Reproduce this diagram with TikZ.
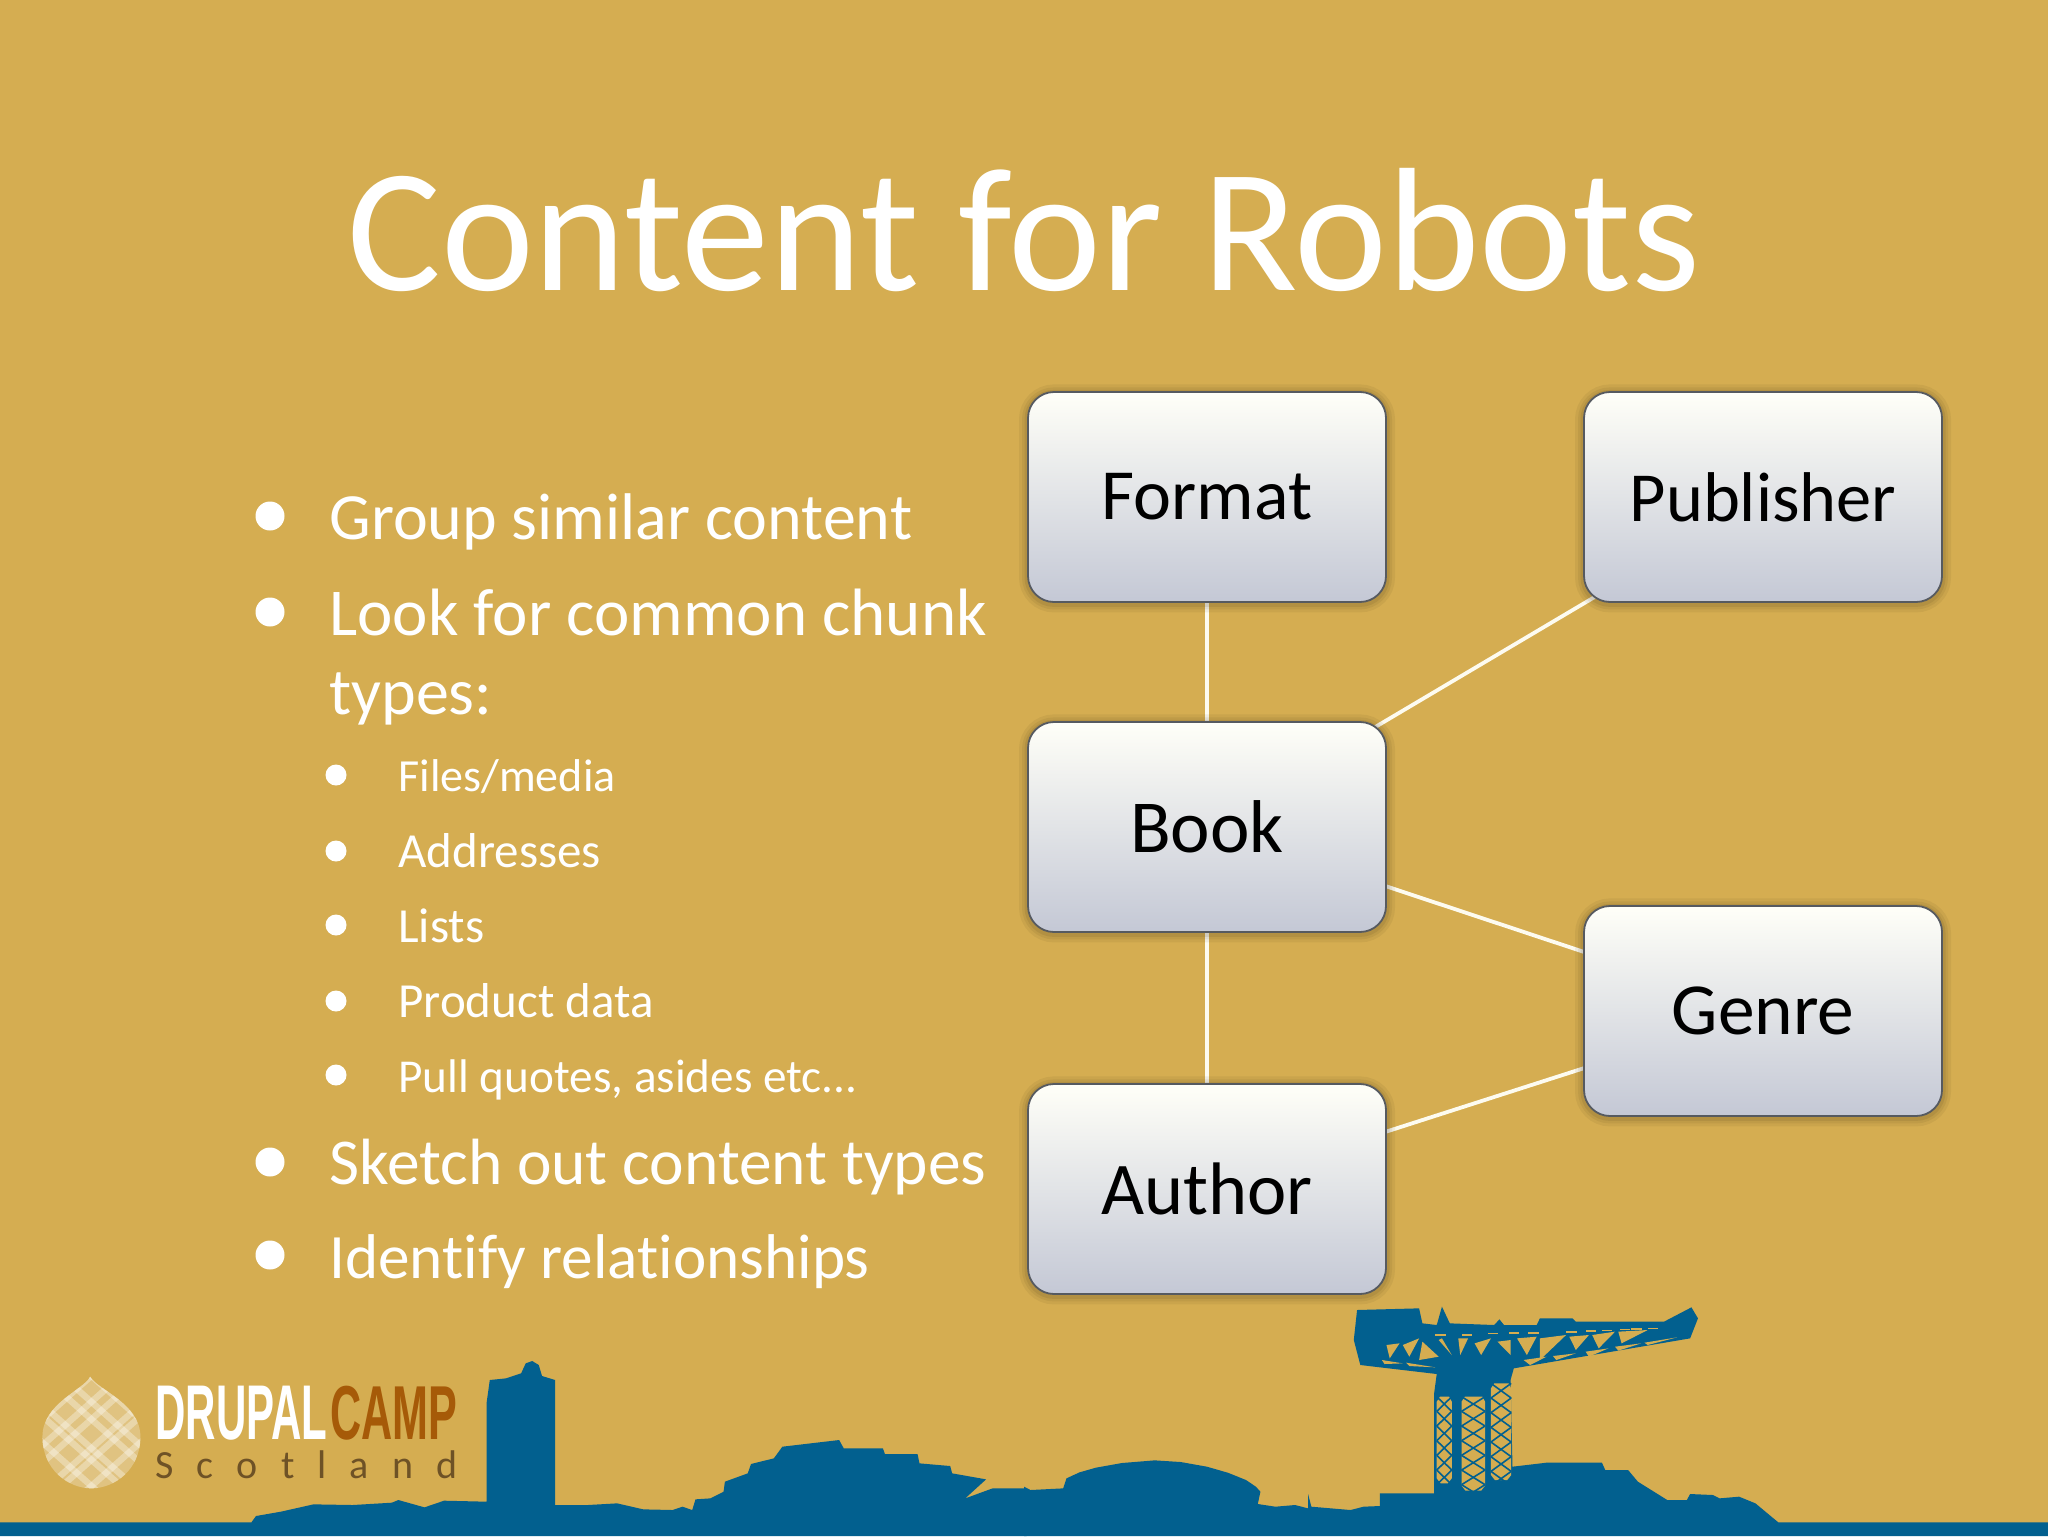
\documentclass[tikz,border=0pt]{standalone}
\usepackage{fontspec}
\usepackage{graphicx}
\setmainfont[Ligatures=NoCommon]{Carlito}
\newfontfamily\spacedfont[LetterSpace=58]{Carlito}
\newfontfamily\logofont{Liberation Sans}
\newcommand{\fsz}[1]{\fontsize{#1}{#1}\selectfont}
\definecolor{bgc}{HTML}{D5AD51}
\definecolor{bluec}{HTML}{02608F}
\definecolor{linec}{HTML}{FDFBF0}
\definecolor{edgec}{HTML}{565A60}
\definecolor{topc}{HTML}{FFFFF8}
\definecolor{botc}{HTML}{C4C8D5}
\definecolor{campc}{HTML}{A65A08}
\definecolor{scotc}{HTML}{6E5226}
\pgfdeclarelayer{bg}
\pgfsetlayers{bg,main}
\tikzset{
  x=0.5pt,y=-0.5pt,
  entity/.style={
    rectangle,rounded corners=13pt,minimum width=179pt,minimum height=105pt,
    draw=edgec,line width=0.9pt,top color=topc,bottom color=botc,
    font=\fsz{36},text=black,inner sep=0pt,
    preaction={draw=black!70!bgc,draw opacity=.07,line width=9pt,transform canvas={yshift=-.7pt}},
    preaction={draw=black!70!bgc,draw opacity=.08,line width=6pt,transform canvas={yshift=-.7pt}},
    preaction={draw=black!70!bgc,draw opacity=.10,line width=3.5pt,transform canvas={yshift=-.7pt}}},
  link/.style={draw=linec,line width=1.9pt,shorten >=-8pt,shorten <=-8pt},
  titletext/.style={anchor=base,text=white,inner sep=0pt,font=\fsz{88}},
  biga/.style={anchor=base west,text=white,inner sep=0pt,font=\fsz{33}},
  smalla/.style={anchor=base west,text=white,inner sep=0pt,font=\fsz{24.5}},
  bigdot/.style={circle,fill=white,draw=none,minimum size=14.5pt,inner sep=0pt},
  smalldot/.style={circle,fill=white,draw=none,minimum size=10.5pt,inner sep=0pt},
  logotext/.style={anchor=base west,inner sep=0pt},
  sky/.style={fill=bluec,draw=none},
  hole/.style={fill=bgc,draw=none}
}
\begin{document}
\begin{tikzpicture}
\useasboundingbox (0,0) rectangle (2048,1536);

% entities
\node[entity] (format) at (1207,497) {\raisebox{-.8pt}{Format}};
\node[entity,font=\fsz{35.2}] (publisher) at (1763,497) {Publisher};
\node[entity,font=\fsz{37.4}] (book) at (1207,827) {Book};
\node[entity,font=\fsz{36.7}] (genre) at (1763,1011) {\raisebox{-.5pt}{Genre}};
\node[entity,font=\fsz{37.2}] (author) at (1207,1189) {Author};

\begin{pgfonlayer}{bg}
\fill[bgc] (0,0) rectangle (2048,1536);
\draw[link] (format) -- (book);
\draw[link] (book) -- (publisher);
\draw[link] (book) -- (genre);
\draw[link] (book) -- (author);
\draw[link] (author) -- (genre);
\end{pgfonlayer}

% title
\node[titletext] (title) at (1024,290) {Content for Robots};

% bullets
\node[bigdot] (d1) at (270,516) {};
\node[biga] (t1) at (329,539) {Group similar content};
\node[bigdot] (d2) at (270,612) {};
\node[biga,font=\fsz{33.5}] (t2) at (329,635) {Look for common chunk};
\node[biga] (t2b) at (329,714) {types:};
\node[smalldot] (d3) at (336,775) {};
\node[smalla,font=\fsz{23}] (t3) at (398,791) {Files/media};
\node[smalldot] (d4) at (336,851) {};
\node[smalla] (t4) at (398,867) {Addresses};
\node[smalldot] (d5) at (336,925) {};
\node[smalla] (t5) at (398,942) {Lists};
\node[smalldot] (d6) at (336,1001) {};
\node[smalla] (t6) at (398,1017) {Product data};
\node[smalldot] (d7) at (336,1075) {};
\node[smalla,font=\fsz{23.6}] (t7) at (398,1092) {Pull quotes, asides etc...};
\node[bigdot] (d8) at (270,1162) {};
\node[biga,font=\fsz{32.7}] (t8) at (329,1184) {Sketch out content types};
\node[bigdot] (d9) at (270,1255) {};
\node[biga,font=\fsz{31.6}] (t9) at (329,1278) {Identify relationships};

% skyline, left half (zoomed band: 1.53125 units per px across, 3 down)
\begin{scope}[shift={(0,1280)},x=0.32653pt,y=-0.16667pt]
\fill[sky] (0,727)--(385,727)--(392,708)--(430,695)--(480,673)--(540,675)--(600,668)--(610,660)--(650,682)--(680,662)--(745,665)
 --(745,370)--(750,300)--(775,295)--(798,280)--(805,250)--(815,243)--(825,255)--(830,288)--(850,300)--(850,675)
 --(900,675)--(945,670)--(985,688)--(1030,690)--(1045,680)--(1060,690)--(1065,658)--(1088,655)--(1108,635)--(1110,605)
 --(1145,580)--(1150,552)--(1185,535)--(1198,500)--(1285,480)--(1292,505)--(1352,505)--(1355,522)--(1405,522)--(1408,550)
 --(1455,558)--(1458,580)--(1510,598)--(1478,655)--(1520,625)--(1572,625)--(1572,768)--(0,768)--cycle;
% logo drop
\begin{scope}
\clip (138,290) .. controls (150,330) and (215,370) .. (215,470) .. controls (215,570) and (175,625) .. (140,625)
  .. controls (105,625) and (65,570) .. (65,470) .. controls (65,370) and (128,330) .. (138,290) -- cycle;
\fill[white,opacity=.28] (0,250) rectangle (260,660);
\foreach \d in {-85,-40,-20,30,60,105}{
  \draw[white,opacity=.32,line width=3.2pt] (140+\d-115,470-200) -- (140+\d+115,470+200);
  \draw[white,opacity=.32,line width=3.2pt] (140-\d+115,470-200) -- (140-\d-115,470+200);
}
\end{scope}
\end{scope}

% skyline, right half
\begin{scope}[shift={(1024,1280)},x=0.32653pt,y=-0.16667pt]
\fill[sky] (0,620)--(10,630)--(60,625)--(65,595)--(85,577)--(110,563)--(150,549)--(200,541)--(240,546)--(280,560)--(312,578)--(340,600)--(355,620)--(362,635)--(358,672)--(385,680)
 --(415,675)--(435,685)--(435,642)--(440,680)--(500,690)--(520,680)--(545,678)--(545,640)--(628,640)
 --(628,340)--(632,282)--(515,255)--(505,180)--(510,90)--(605,85)--(610,130)--(632,135)--(640,80)--(652,130)
 --(720,135)--(728,118)--(735,135)--(785,135)--(790,115)--(840,115)--(845,125)--(980,125)--(1022,82)--(1032,115)--(1020,175)
 --(750,265)--(745,300)--(748,560)--(800,548)--(885,548)--(890,570)--(925,570)--(940,605)--(985,660)--(1015,660)
 --(1020,642)--(1055,645)--(1065,655)--(1095,650)--(1120,670)--(1155,727)--(1568,727)--(1568,768)--(0,768)--cycle;
% tower lattice
\foreach \a/\b/\c/\d in {632/655/350/610, 670/706/350/632, 715/746/310/600}{
  \fill[hole] (\a,\c+15) -- (\a+5,\c) -- (\b-4,\c) -- (\b,\c+15) -- (\b,\d-15) -- (\b-6,\d) -- (\a+6,\d) -- (\a,\d-15) -- cycle;
  \foreach \y in {0,1,2,3,4,5,6}{
    \draw[bluec,line width=.8pt] (\a,\c+\y*44) -- (\b,\c+\y*44+44);
    \draw[bluec,line width=.8pt] (\b,\c+\y*44) -- (\a,\c+\y*44+44);
  }
}
% crane arm truss
\foreach \xa/\ya/\xb/\yb/\xc/\yc in {
 555/195/575/190/560/235, 580/195/605/175/590/230, 610/185/635/230/605/240, 640/175/655/225/635/180,
 665/175/680/175/668/225, 690/190/715/175/700/225, 725/185/745/180/745/225, 755/175/785/170/770/225,
 790/175/830/165/790/240, 835/170/865/165/845/210, 870/165/905/155/880/205, 910/155/955/150/915/190,
 548/240/580/250/552/252, 585/248/630/262/590/258,
 765/240/800/230/775/255, 810/228/845/220/815/240, 860/215/895/205/865/230, 905/200/945/190/910/212, 950/188/1000/172/955/195}{
  \fill[hole] (\xa,\ya)--(\xb,\yb)--(\xc,\yc)--cycle;
}
\foreach \x/\y in {630/163,670/162,710/158,742/157,772/157,830/153,860/150,885/149,912/146,930/144,955/143}{
  \fill[hole] (\x,\y) rectangle (\x+16,\y+5);
}
\end{scope}

% logo text
\node[logotext,text=white] (drupal) at (155,1439) {\resizebox{86pt}{26.7pt}{\logofont\bfseries DRUPAL}};
\node[logotext,text=campc] (camp) at (330,1439) {\resizebox{63.5pt}{26.7pt}{\logofont\bfseries CAMP}};
\node[logotext,text=scotc] (scot) at (155,1478) {\fsz{20}\spacedfont Scotland};
\end{tikzpicture}
\end{document}
